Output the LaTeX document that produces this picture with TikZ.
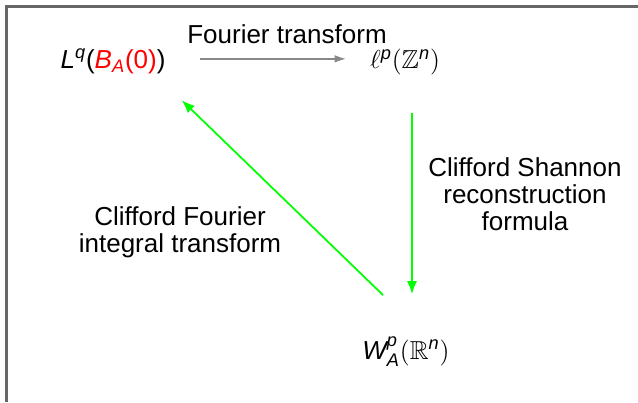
\RequirePackage{fix-cm}
\documentclass[tikz,border=0pt]{standalone}
\usepackage{amsmath,amssymb}
\usepackage{fontspec}
\setmainfont{Liberation Sans}
\usepackage{tikz}
\usetikzlibrary{arrows.meta, positioning}
\definecolor{framegray}{HTML}{666666}
\definecolor{grey}{HTML}{888888}
\definecolor{lime}{HTML}{00FF00}
\newcommand{\mi}[1]{\text{\itshape #1}}
\tikzset{
  space/.style={inner sep=0pt, font=\fontsize{14.8}{15}\selectfont},
  txt/.style={align=center, inner sep=0pt, font=\fontsize{14.8}{15.5}\selectfont},
  grayarrow/.style={-{Latex[length=2.4mm, width=1.5mm]}, line width=1.2pt, color=grey},
  greenarrow/.style={-{Latex[length=2.6mm, width=2mm]}, line width=1pt, color=lime},
}

\begin{document}
\begin{tikzpicture}[x=0.02cm, y=-0.02cm]
  \useasboundingbox (0,0) rectangle (638,402);
  \draw[framegray, line width=1.2pt] (6.5,402) -- (6.5,6.5) -- (638,6.5);
  % the three spaces
  \node[space, anchor=base] (Lq) at (113,69) {$\mi{L}^{\mi{q}}\text{(}\textcolor{red}{\mi{B}_{\mi{A}}\text{(0)}}\text{)}$};
  \node[space, anchor=base] (ellp) at (405,69) {$\ell^{\mi{p}}(\mathbb{Z}^{\mi{n}})$};
  \node[space, anchor=base] (Wp) at (406,359) {$\mi{W}^{\mi{p}}_{\mi{A}}(\mathbb{R}^{\mi{n}})$};
  % texts on the arrows
  \node[txt, anchor=base] (ft) at (287,44) {Fourier transform};
  \node[txt] (shannon) at (525,194) {Clifford Shannon\\reconstruction\\formula};
  \node[txt] (cfit) at (180,232) {Clifford Fourier\\integral transform};
  \draw[grayarrow, shorten <=0.68cm, shorten >=0.46cm] ([yshift=0.05cm]Lq.east) -- ([yshift=0.05cm]Lq.east -| ellp.west);
  \draw[greenarrow, shorten <=0.75cm, shorten >=0.84cm] ([xshift=0.14cm]ellp.south) -- ([xshift=0.14cm]ellp.south |- Wp.north);
  \draw[greenarrow] ([shift={(21,-41)}]Wp.north west) -- ([shift={(16,25.5)}]Lq.south east);
\end{tikzpicture}
\end{document}
